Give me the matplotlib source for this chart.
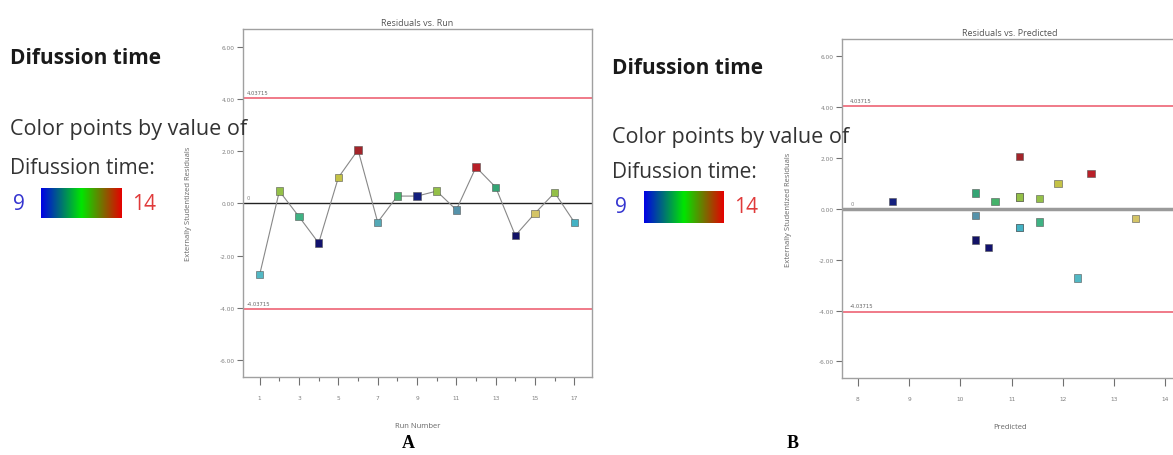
import matplotlib
matplotlib.use("Agg")
import matplotlib.pyplot as plt
import numpy as np
from matplotlib.colors import LinearSegmentedColormap

# Model diagnostics for diffusion time
runs = list(range(1, 18))
residuals = [-2.72, 0.47, -0.51, -1.52, 0.99, 2.05, -0.72, 0.28, 0.28,
             0.47, -0.25, 1.39, 0.62, -1.23, -0.38, 0.41, -0.72]
predicted = [12.29, 11.16, 11.54, 10.55, 11.91, 11.16, 11.16, 10.68, 8.68,
             11.16, 10.30, 12.55, 10.30, 10.30, 13.42, 11.54, 11.16]
point_colors = ["#52b8c4", "#94c048", "#3fb283", "#12126e", "#c4c246", "#a3242a",
                "#54a9b6", "#45b26a", "#14207e", "#94c048", "#5592aa", "#b82028",
                "#34a474", "#121266", "#d4c466", "#94c048", "#44b2c4"]
limit = 4.03715
run_ticks = [1, 3, 5, 7, 9, 11, 13, 15, 17]
pred_ticks = [8, 9, 10, 11, 12, 13, 14]
y_ticks = [-6, -4, -2, 0, 2, 4, 6]
time_min, time_max = 9, 14

W, H = 1173, 456
fig = plt.figure(figsize=(W / 100, H / 100), dpi=100)
fig.patch.set_facecolor("white")

SANS = ["Open Sans", "DejaVu Sans"]


def px(x, y):
    return x / W, 1 - y / H


def style_axes(ax, title, xlabel, ylabel_pad):
    for s in ax.spines.values():
        s.set_color("#a0a0a0")
        s.set_linewidth(1.0)
    ax.set_ylim(-6.65, 6.68)
    ax.set_yticks(y_ticks)
    ax.set_yticklabels([f"{v:.2f}" for v in y_ticks])
    ax.tick_params(axis="both", labelsize=4.2, colors="#707070", width=0.8,
                   labelcolor="#808080")
    ax.tick_params(axis="y", length=4, pad=2)
    ax.tick_params(axis="x", which="major", length=6, pad=7)
    ax.set_title(title, fontsize=6.5, color="#555555", pad=3, family=SANS)
    ax.set_xlabel(xlabel, fontsize=5.5, color="#666666", labelpad=16, family=SANS)
    ax.set_ylabel("Externally Studentized Residuals", fontsize=5.5, color="#666666",
                  labelpad=ylabel_pad, family=SANS)


def limit_lines(ax, x0, zero_color, zero_lw):
    ax.axhline(limit, color="#f07a88", lw=1.4, zorder=1)
    ax.axhline(-limit, color="#f07a88", lw=1.4, zorder=1)
    ax.axhline(0, color=zero_color, lw=zero_lw, zorder=1)
    ax.text(x0, limit + 0.12, f"{limit:.5f}", fontsize=3.8, color="#666666", va="bottom")
    ax.text(x0, -limit + 0.12, f"{-limit:.5f}", fontsize=3.8, color="#666666", va="bottom")
    ax.text(x0, 0.12, "0", fontsize=3.8, color="#888888", va="bottom")


# Panel A: residuals vs run order
axA = fig.add_axes([243 / W, 1 - 378 / H, 349 / W, 348 / H])
axA.set_xlim(0.15, 17.9)
limit_lines(axA, 0.35, "#222222", 1.0)
axA.plot(runs, residuals, color="#888888", lw=0.8, zorder=2)
axA.scatter(runs, residuals, marker="s", s=28, c=point_colors,
            edgecolors="#555555", linewidths=0.4, zorder=3)
axA.set_xticks(run_ticks)
axA.set_xticks([r for r in runs if r not in run_ticks], minor=True)
axA.tick_params(axis="x", which="minor", length=3, width=0.8, colors="#707070")
style_axes(axA, "Residuals vs. Run", "Run Number", 20)

# Panel B: residuals vs predicted
axB = fig.add_axes([842 / W, 1 - 379 / H, 336 / W, 339 / H])
axB.set_xlim(7.69, 14.25)
limit_lines(axB, 7.85, "#9a9a9a", 2.5)
axB.scatter(predicted, residuals, marker="s", s=28, c=point_colors,
            edgecolors="#555555", linewidths=0.4, zorder=3)
axB.set_xticks(pred_ticks)
style_axes(axB, "Residuals vs. Predicted", "Predicted", 19)

# Colour legend blocks
cmap = LinearSegmentedColormap.from_list("dtime", ["#0000e6", "#00e600", "#e60000"])
grad = np.linspace(time_min, time_max, 256).reshape(1, -1)


def legend_block(x, y_head, y_line1, y_line2, y_bar, bar_x0, bar_x1, bar_h):
    fig.text(*px(x, y_head), "Difussion time", fontsize=15, weight="bold",
             color="#1a1a1a", va="center", ha="left", family=SANS)
    fig.text(*px(x, y_line1), "Color points by value of", fontsize=15.5,
             color="#333333", va="center", ha="left", family=SANS, zorder=5)
    fig.text(*px(x, y_line2), "Difussion time:", fontsize=15,
             color="#333333", va="center", ha="left", family=SANS)
    fig.text(*px(x + 3, y_bar), f"{time_min}", fontsize=15, color="#3535d0",
             va="center", ha="left", family=SANS)
    fig.text(*px(bar_x1 + 10, y_bar), f"{time_max}", fontsize=15, color="#e03a3a",
             va="center", ha="left", family=SANS)
    cax = fig.add_axes([bar_x0 / W, 1 - (y_bar + bar_h / 2) / H,
                        (bar_x1 - bar_x0) / W, bar_h / H])
    cax.imshow(grad, aspect="auto", cmap=cmap, extent=[time_min, time_max, 0, 1])
    cax.set_xticks([])
    cax.set_yticks([])
    for s in cax.spines.values():
        s.set_visible(False)


legend_block(10, 58, 130, 168, 204, 41, 122, 30)
legend_block(612, 68, 138, 172, 208, 644, 724, 32)

# Panel letters
fig.text(*px(408, 444), "A", fontsize=13, weight="bold", family="Liberation Serif",
         ha="center", va="center")
fig.text(*px(793, 444), "B", fontsize=13, weight="bold", family="Liberation Serif",
         ha="center", va="center")

fig.savefig("out.png", dpi=100, facecolor="white")
